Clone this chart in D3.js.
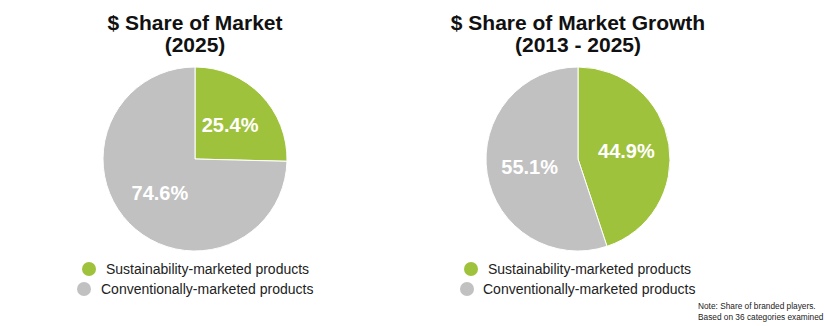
<!DOCTYPE html>
<html><head><meta charset="utf-8">
<script src="https://cdn.jsdelivr.net/npm/d3@7"></script>
<style>body{margin:0;background:#fff;}svg{display:block;font-family:"Liberation Sans",Arial,sans-serif;}</style>
</head><body>
<script>
const categories = ["Sustainability-marketed products", "Conventionally-marketed products"];
const shareOfMarket = [25.4, 74.6];
const shareOfGrowth = [44.9, 55.1];
const chartTitles = [["$ Share of Market", "(2025)"], ["$ Share of Market Growth", "(2013 - 2025)"]];
const noteLines = ["Note: Share of branded players.", "Based on 36 categories examined"];

const W = 825, H = 326;
const svg = d3.select("body").append("svg").attr("width", W).attr("height", H);
const color = d3.scaleOrdinal().domain(categories).range(["#9fc23d", "#c1c1c1"]);
const R = 92;
const pie = d3.pie().sort(null).value(d => d.v);
const arc = d3.arc().innerRadius(0).outerRadius(R);
const labelArc = d3.arc().innerRadius(49).outerRadius(49);

const panels = [
  {cx: 195, cy: 159, values: shareOfMarket, title: chartTitles[0], lg: [[89,269,106],[84,289,101]]},
  {cx: 578, cy: 159, values: shareOfGrowth, title: chartTitles[1], lg: [[471,269,488],[467,289,483]]}
];

panels.forEach(p => {
  const g = svg.append("g");
  g.selectAll("text.title").data(p.title).join("text")
    .attr("x", p.cx).attr("y", (d,i) => 30 + i*22)
    .attr("text-anchor", "middle").attr("font-size", 21).attr("font-weight", "bold").attr("fill", "#111")
    .text(d => d);
  const data = pie(categories.map((c,i) => ({c, v: p.values[i]})));
  const pg = g.append("g").attr("transform", `translate(${p.cx},${p.cy})`);
  pg.selectAll("path").data(data).join("path")
    .attr("d", arc).attr("fill", d => color(d.data.c)).attr("stroke", "#fff").attr("stroke-width", 1);
  pg.selectAll("text").data(data).join("text")
    .attr("transform", d => `translate(${labelArc.centroid(d)})`)
    .attr("text-anchor", "middle").attr("dy", "0.36em")
    .attr("font-size", 20).attr("font-weight", "bold").attr("fill", "#fff")
    .text(d => d.data.v.toFixed(1) + "%");
  categories.forEach((c,i) => {
    const [x,y,tx] = p.lg[i];
    g.append("circle").attr("cx", x).attr("cy", y).attr("r", 7).attr("fill", color(c));
    g.append("text").attr("x", tx).attr("y", y + 5).attr("font-size", 14).attr("fill", "#222").text(c);
  });
});

svg.selectAll("text.note").data(noteLines).join("text").attr("class","note")
  .attr("x", 698).attr("y", (d,i) => 309 + i*11).attr("font-size", 8.3).attr("fill", "#222").text(d => d);
</script>
</body></html>
